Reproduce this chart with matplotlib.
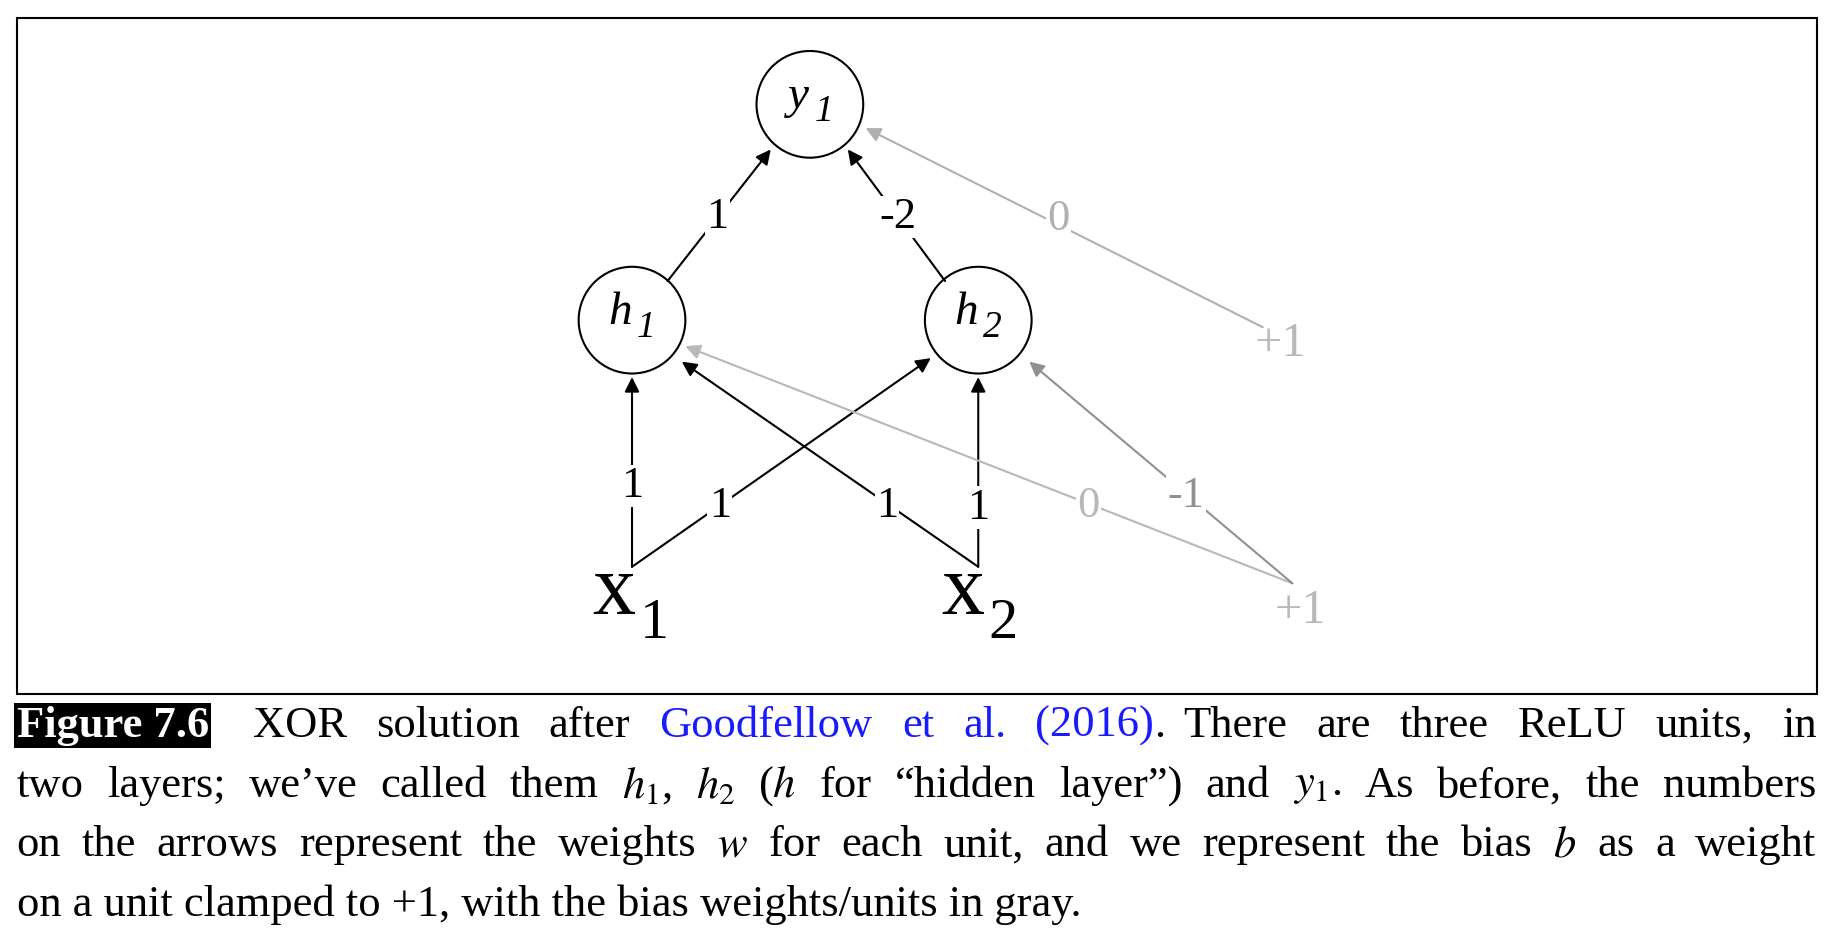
import matplotlib
matplotlib.use("Agg")
import matplotlib.pyplot as plt
from matplotlib.patches import Circle, Rectangle

plt.rcParams['font.family'] = ['Liberation Serif', 'DejaVu Serif']
plt.rcParams['mathtext.fontset'] = 'stix'

W, H = 1832, 930
S = W / 1545.0

# nodes: name -> (x, y, letter, subscript)
nodes = {'y1': (683, 88, 'y', '1'),
         'h1': (533, 270, 'h', '1'),
         'h2': (825, 270, 'h', '2')}
R = 45

# edges: start, end, label, label pos, color
edges = [((563, 237), (650, 126), '1', (605, 183), 'black'),
         ((797, 237), (715, 126), '-2', (757, 183), 'black'),
         ((1065, 276), (730, 108), '0', (893, 185), '#b0b0b0'),
         ((533, 478), (533, 318), '1', (533, 410), 'black'),
         ((533, 478), (785, 302), '1', (607, 427), 'black'),
         ((825, 478), (575, 305), '1', (748, 427), 'black'),
         ((825, 478), (825, 318), '1', (825, 428), 'black'),
         ((1090, 492), (578, 292), '0', (918, 427), '#b8b8b8'),
         ((1090, 492), (868, 305), '-1', (1000, 418), '#909090')]

caption = [[('Figure 7.6', 'fig'), ('XOR', 'k'), ('solution', 'k'), ('after', 'k'),
            ('Goodfellow', 'b'), ('et', 'b'), ('al.', 'b'), ('(2016).', 'bp'),
            ('There', 'k'), ('are', 'k'), ('three', 'k'), ('ReLU', 'k'), ('units,', 'k'), ('in', 'k')],
           [('two', 'k'), ('layers;', 'k'), ('we\u2019ve', 'k'), ('called', 'k'), ('them', 'k'),
            (r'$h_1$,', 'k'), (r'$h_2$', 'k'), (r'($h$', 'k'), ('for', 'k'), ('\u201chidden', 'k'),
            ('layer\u201d)', 'k'), ('and', 'k'), (r'$y_1$.', 'k'), ('As', 'k'), ('before,', 'k'),
            ('the', 'k'), ('numbers', 'k')],
           [('on', 'k'), ('the', 'k'), ('arrows', 'k'), ('represent', 'k'), ('the', 'k'),
            ('weights', 'k'), (r'$w$', 'k'), ('for', 'k'), ('each', 'k'), ('unit,', 'k'), ('and', 'k'),
            ('we', 'k'), ('represent', 'k'), ('the', 'k'), ('bias', 'k'), (r'$b$', 'k'), ('as', 'k'),
            ('a', 'k'), ('weight', 'k')],
           [('on a unit clamped to +1, with the bias weights/units in gray.', 'k')]]
line_y = [612, 663, 713, 763]

fig = plt.figure(figsize=(W / 100, H / 100), dpi=100)
ax = fig.add_axes([0, 0, 1, 1])
ax.set_xlim(0, W)
ax.set_ylim(H, 0)
ax.axis('off')

def P(x, y):
    return x * S, y * S

ax.add_patch(Rectangle(P(14, 15), 1518 * S, 570 * S, fill=False, lw=1.5, ec='black'))

for x, y, let, sub in nodes.values():
    ax.add_patch(Circle(P(x, y), R * S, fill=False, lw=1.5, ec='black'))
    ax.text(*P(x - 10, y - 6), let, fontsize=34, style='italic', ha='center', va='center')
    ax.text(*P(x + 12, y + 6), sub, fontsize=27, style='italic', ha='center', va='center')

for s, e, lab, lp, c in edges:
    ax.annotate('', xy=P(*e), xytext=P(*s),
                arrowprops=dict(arrowstyle='-|>', color=c, lw=1.5, mutation_scale=22,
                                shrinkA=0, shrinkB=0))
    ax.text(*P(*lp), lab, fontsize=32, color=c, ha='center', va='center',
            bbox=dict(fc='white', ec='none', pad=1))

for xx, sub, yy in [(518, '1', 500), (812, '2', 500)]:
    ax.text(*P(xx, yy), 'x', fontsize=62, ha='center', va='center')
    ax.text(*P(xx + 34, yy + 26), sub, fontsize=42, ha='center', va='center')
ax.text(*P(1080, 290), '+1', fontsize=35, color='#b8b8b8', ha='center', va='center')
ax.text(*P(1097, 515), '+1', fontsize=35, color='#b8b8b8', ha='center', va='center')

# caption, justified
fig.canvas.draw()
rend = fig.canvas.get_renderer()
left, right = 14 * S, 1532 * S
fs = 32
for i, (words, ly) in enumerate(zip(caption, line_y)):
    arts = []
    for w, st in words:
        kw = dict(fontsize=fs, va='center', ha='left')
        if st == 'fig':
            t = ax.text(0, ly * S, w, color='white', fontweight='bold',
                        bbox=dict(fc='black', ec='none', pad=2), **kw)
        elif st in ('b', 'bp'):
            t = ax.text(0, ly * S, w.rstrip('.') if st == 'bp' else w, color='#1a1aff', **kw)
        else:
            t = ax.text(0, ly * S, w, color='black', **kw)
        arts.append((t, st))
    widths = [t.get_window_extent(rend).width for t, _ in arts]
    if len(arts) > 1:
        gap = (right - left - sum(widths) - 15 * (i == 0)) / (len(arts) - 1)
    else:
        gap = 0
    x = left
    for (t, st), wd in zip(arts, widths):
        t.set_x(x)
        if st == 'bp':
            ax.text(x + wd, ly * S, '.', fontsize=fs, va='center', ha='left')
        x += wd + gap
        if st == 'fig':
            x += 15

fig.savefig('out.png', dpi=100)
